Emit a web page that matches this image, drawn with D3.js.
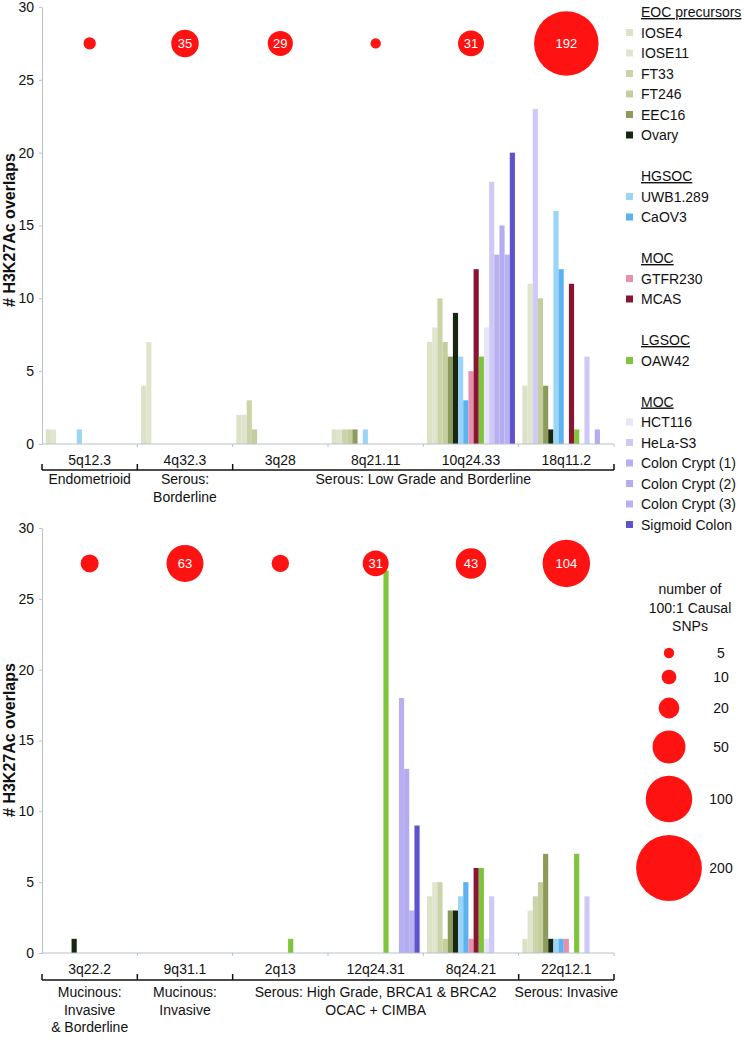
<!DOCTYPE html>
<html lang="en">
<head>
    <meta charset="utf-8">
    <script src="https://d3js.org/d3.v7.min.js"></script>
    <style>
        body { margin: 0; background: #fff; }
        text { font-family: "Liberation Sans", Arial, sans-serif; }
    </style>
</head>
<body>
<script>
    // cell lines (bar series), in drawing order
    var series = ["IOSE4", "IOSE11", "FT33", "FT246", "EEC16", "Ovary",
        "UWB1.289", "CaOV3", "GTFR230", "MCAS", "OAW42",
        "HCT116", "HeLa-S3", "Colon Crypt (1)", "Colon Crypt (2)", "Colon Crypt (3)", "Sigmoid Colon"];

    // top panel
    var topLoci = ["5q12.3", "4q32.3", "3q28", "8q21.11", "10q24.33", "18q11.2"];
    var topSnps = [7, 35, 29, 5, 31, 192];
    var topCounts = [
        [1, 1, 0, 0, 0, 0, 1, 0, 0, 0, 0, 0, 0, 0, 0, 0, 0],
        [4, 7, 0, 0, 0, 0, 0, 0, 0, 0, 0, 0, 0, 0, 0, 0, 0],
        [2, 2, 3, 1, 0, 0, 0, 0, 0, 0, 0, 0, 0, 0, 0, 0, 0],
        [1, 1, 1, 1, 1, 0, 1, 0, 0, 0, 0, 0, 0, 0, 0, 0, 0],
        [7, 8, 10, 7, 6, 9, 6, 3, 5, 12, 6, 8, 18, 13, 15, 13, 20],
        [4, 11, 23, 10, 4, 1, 16, 12, 0, 11, 1, 0, 6, 0, 1, 0, 0]
    ];
    var topGroups = [
        { lines: ["Endometrioid"], from: 0, to: 0 },
        { lines: ["Serous:", "Borderline"], from: 1, to: 1 },
        { lines: ["Serous: Low Grade and Borderline"], from: 2, to: 5 }
    ];

    // bottom panel
    var bottomLoci = ["3q22.2", "9q31.1", "2q13", "12q24.31", "8q24.21", "22q12.1"];
    var bottomSnps = [15, 63, 14, 31, 43, 104];
    var bottomCounts = [
        [0, 0, 0, 0, 0, 1, 0, 0, 0, 0, 0, 0, 0, 0, 0, 0, 0],
        [0, 0, 0, 0, 0, 0, 0, 0, 0, 0, 0, 0, 0, 0, 0, 0, 0],
        [0, 0, 0, 0, 0, 0, 0, 0, 0, 0, 1, 0, 0, 0, 0, 0, 0],
        [0, 0, 0, 0, 0, 0, 0, 0, 0, 0, 27, 0, 0, 18, 13, 3, 9],
        [4, 5, 5, 1, 3, 3, 4, 5, 1, 6, 6, 1, 4, 0, 0, 0, 0],
        [1, 3, 4, 5, 7, 1, 1, 1, 1, 0, 7, 0, 4, 0, 0, 0, 0]
    ];
    var bottomGroups = [
        { lines: ["Mucinous:", "Invasive", "& Borderline"], from: 0, to: 0 },
        { lines: ["Mucinous:", "Invasive"], from: 1, to: 1 },
        { lines: ["Serous: High Grade, BRCA1 & BRCA2", "OCAC + CIMBA"], from: 2, to: 4 },
        { lines: ["Serous: Invasive"], from: 5, to: 5 }
    ];

    // legends
    var legendSections = [
        { title: "EOC precursors", items: series.slice(0, 6) },
        { title: "HGSOC", items: series.slice(6, 8) },
        { title: "MOC", items: series.slice(8, 10) },
        { title: "LGSOC", items: series.slice(10, 11) },
        { title: "MOC", items: series.slice(11) }
    ];
    var sizeLegend = [5, 10, 20, 50, 100, 200];
    var yTicks = [0, 5, 10, 15, 20, 25, 30];

    // styling
    var colors = ["#dce2c5", "#e1e5cd", "#cbd3a9", "#c4cd9e", "#8c9b5b", "#17260e",
        "#9ad4f6", "#5cb1f1", "#e690ae", "#8a1531", "#7ec43c",
        "#e7e5f8", "#cfcaf5", "#b7aff1", "#b4acf0", "#b9b1f1", "#5c53cd"];
    var colorOf = d3.scaleOrdinal().domain(series).range(colors);
    // one bar in the source is drawn in a different fill
    var fillOverride = { "18q11.2|FT33": "#cfcaf5" };
    var bubbleRed = "#ff1212";
    var axisGrey = "#b7c2cc";

    var width = 744, height = 1050;
    var plotLeft = 42, plotRight = 614;

    var svg = d3.select('body').append('svg')
        .attr('width', width).attr('height', height);

    var rScale = d3.scaleSqrt().domain([0, 200]).range([0, 32.9]);

    function drawPanel(loci, counts, snps, groups, yBottom, yTop, titleY, bracketOff, labelOff) {
        var g = svg.append('g');
        var x = d3.scaleBand().domain(loci).range([plotLeft, plotRight]);
        var xs = d3.scaleBand().domain(series).range([0, x.bandwidth()]).paddingOuter(0.72);
        var y = d3.scaleLinear().domain([0, 30]).range([yBottom, yTop]);

        // bars
        loci.forEach(function(locus, li) {
            var rows = series.map(function(s, si) { return { s: s, v: counts[li][si] }; })
                .filter(function(d) { return d.v > 0; });
            g.append('g').selectAll('rect')
                .data(rows)
                .join('rect')
                .attr('x', function(d) { return x(locus) + xs(d.s); })
                .attr('width', xs.bandwidth())
                .attr('y', function(d) { return y(d.v); })
                .attr('height', function(d) { return y(0) - y(d.v); })
                .attr('fill', function(d) {
                    return fillOverride[locus + '|' + d.s] || colorOf(d.s);
                });
        });

        // y axis
        var ya = g.append('g')
            .attr('transform', 'translate(' + plotLeft + ',0)')
            .call(d3.axisLeft(y).tickValues(yTicks).tickSize(3).tickPadding(5).tickSizeOuter(0));
        ya.select('.domain').attr('stroke', axisGrey);
        ya.selectAll('.tick line').attr('stroke', axisGrey);
        ya.selectAll('.tick text').attr('font-size', 14).attr('fill', '#111')
            .style('font-family', '"Liberation Sans", Arial, sans-serif');

        // x axis line, tick marks and locus labels
        g.append('line').attr('x1', plotLeft).attr('x2', plotRight)
            .attr('y1', yBottom).attr('y2', yBottom).attr('stroke', axisGrey);
        g.append('g').selectAll('line')
            .data(loci)
            .join('line')
            .attr('x1', function(d) { return x(d) + x.step(); })
            .attr('x2', function(d) { return x(d) + x.step(); })
            .attr('y1', yBottom).attr('y2', yBottom + 3)
            .attr('stroke', axisGrey);
        g.append('g').selectAll('text')
            .data(loci)
            .join('text')
            .attr('x', function(d) { return x(d) + x.bandwidth() / 2; })
            .attr('y', yBottom + 21)
            .attr('text-anchor', 'middle')
            .attr('font-size', 14)
            .attr('fill', '#111')
            .text(function(d) { return d; });

        // group brackets
        var by = yBottom + bracketOff;
        g.append('line').attr('x1', plotLeft).attr('x2', plotRight)
            .attr('y1', by).attr('y2', by).attr('stroke', '#111').attr('stroke-width', 1.3);
        var edges = [plotLeft];
        groups.forEach(function(gr) { edges.push(x(loci[gr.to]) + x.step()); });
        g.append('g').selectAll('line')
            .data(edges)
            .join('line')
            .attr('x1', function(d) { return d; })
            .attr('x2', function(d) { return d; })
            .attr('y1', by - 6).attr('y2', by)
            .attr('stroke', '#111').attr('stroke-width', 1.5);

        groups.forEach(function(gr) {
            var cx = (x(loci[gr.from]) + x(loci[gr.to]) + x.step()) / 2;
            g.append('g').selectAll('text')
                .data(gr.lines)
                .join('text')
                .attr('x', cx)
                .attr('y', function(d, i) { return yBottom + labelOff + i * 17.5; })
                .attr('text-anchor', 'middle')
                .attr('font-size', 14)
                .attr('fill', '#111')
                .text(function(d) { return d; });
        });

        // SNP bubbles
        var bub = g.append('g').selectAll('g')
            .data(loci)
            .join('g')
            .attr('transform', function(d) {
                return 'translate(' + (x(d) + x.bandwidth() / 2) + ',' + y(27.5) + ')';
            });
        bub.append('circle')
            .attr('r', function(d, i) { return rScale(snps[i]); })
            .attr('fill', bubbleRed);
        bub.filter(function(d, i) { return snps[i] >= 20; })
            .append('text')
            .attr('text-anchor', 'middle')
            .attr('dy', '0.36em')
            .attr('font-size', 13)
            .attr('fill', '#fff')
            .text(function(d) { return snps[loci.indexOf(d)]; });

        // y title
        svg.append('text')
            .attr('transform', 'translate(15,' + titleY + ') rotate(-90)')
            .attr('text-anchor', 'middle')
            .attr('font-size', 16)
            .attr('font-weight', 'bold')
            .attr('fill', '#111')
            .text('# H3K27Ac overlaps');
    }

    drawPanel(topLoci, topCounts, topSnps, topGroups, 444, 7, 230, 26, 40);
    drawPanel(bottomLoci, bottomCounts, bottomSnps, bottomGroups, 953, 528, 740, 27, 44);

    // cell line legend
    var leg = svg.append('g').attr('transform', 'translate(626,0)');
    var rowH = 20.5, row = 0;
    legendSections.forEach(function(sec) {
        var ty = 12 + row * rowH;
        leg.append('text').attr('x', 15).attr('y', ty + 5)
            .attr('font-size', 14).attr('fill', '#111')
            .attr('text-decoration', 'underline')
            .text(sec.title);
        row++;
        sec.items.forEach(function(s) {
            var cy = 12 + row * rowH;
            leg.append('rect').attr('x', 0).attr('y', cy - 3.5)
                .attr('width', 7).attr('height', 7).attr('fill', colorOf(s));
            leg.append('text').attr('x', 15).attr('y', cy + 5)
                .attr('font-size', 14).attr('fill', '#111').text(s);
            row++;
        });
        row++;
    });

    // bubble size legend
    var sl = svg.append('g');
    ["number of", "100:1 Causal", "SNPs"].forEach(function(t, i) {
        sl.append('text').attr('x', 690).attr('y', 594 + i * 18.5)
            .attr('text-anchor', 'middle').attr('font-size', 14).attr('fill', '#111').text(t);
    });
    var sizeY = d3.scaleOrdinal().domain(sizeLegend).range([653, 677, 708, 747, 799, 868]);
    var si = sl.selectAll('g.size')
        .data(sizeLegend)
        .join('g')
        .attr('class', 'size')
        .attr('transform', function(d) { return 'translate(669,' + sizeY(d) + ')'; });
    si.append('circle').attr('r', function(d) { return rScale(d); }).attr('fill', bubbleRed);
    si.append('text').attr('x', 52).attr('dy', '0.36em')
        .attr('text-anchor', 'middle').attr('font-size', 14).attr('fill', '#111')
        .text(function(d) { return d; });
</script>
</body>
</html>
